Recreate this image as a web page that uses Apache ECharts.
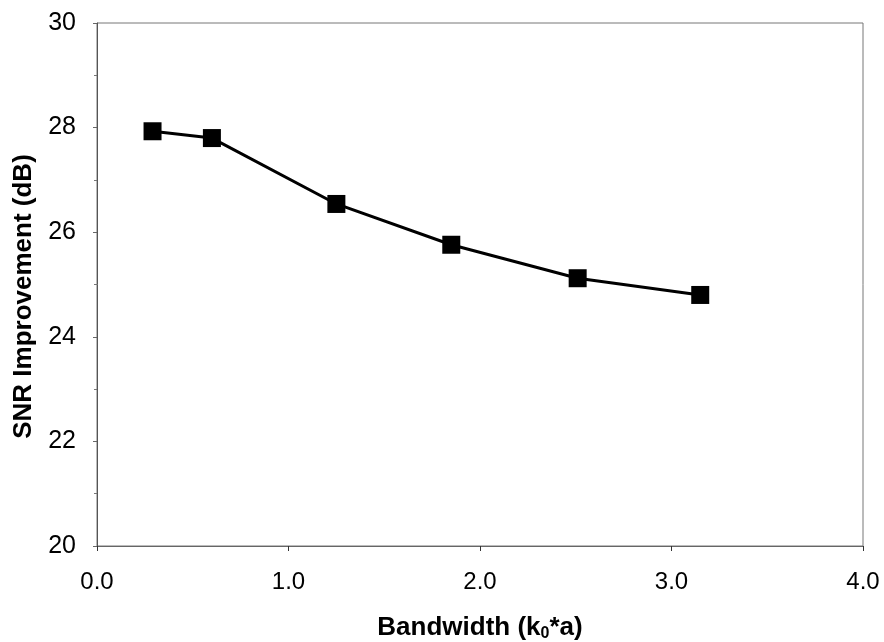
<!DOCTYPE html>
<html>
<head>
<meta charset="utf-8">
<script src="https://cdn.jsdelivr.net/npm/echarts@6/dist/echarts.min.js"></script>
<style>html,body{margin:0;padding:0;background:#fff}#c{width:884px;height:642px}</style>
</head>
<body>
<div id="c"></div>
<script>
const bandwidth = [0.29, 0.60, 1.25, 1.85, 2.51, 3.15];
const snr = [27.93, 27.80, 26.54, 25.76, 25.12, 24.80];
const xTicks = { min: 0, max: 4, interval: 1 };
const yTicks = { min: 20, max: 30, interval: 2 };

const chart = echarts.init(document.getElementById('c'), null, { renderer: 'canvas' });
chart.setOption({
  backgroundColor: '#fff',
  animation: false,
  grid: { left: 97, right: 21, top: 23, bottom: 96, show: true, borderColor: '#777', borderWidth: 1,
          containLabel: false, outerBoundsMode: 'none' },
  xAxis: {
    type: 'value', min: xTicks.min, max: xTicks.max, interval: xTicks.interval,
    name: 'Bandwidth (k{sub|0}*a)', nameLocation: 'middle', nameGap: 68,
    nameTextStyle: { fontFamily: 'Liberation Sans, Arial', fontWeight: 'bold', fontSize: 26, color: '#000',
      rich: { sub: { fontSize: 16, fontWeight: 'bold', color: '#000', verticalAlign: 'bottom', padding: [12, 0, 0, 0], fontFamily: 'Liberation Sans, Arial' } } },
    axisLine: { show: true, lineStyle: { color: '#666', width: 1 } },
    axisTick: { show: true, inside: false, length: 5, lineStyle: { color: '#333' } },
    axisLabel: { fontFamily: 'Liberation Sans, Arial', fontSize: 24, color: '#000', margin: 24, formatter: v => v.toFixed(1) },
    splitLine: { show: false }
  },
  yAxis: {
    type: 'value', min: yTicks.min, max: yTicks.max, interval: yTicks.interval,
    name: 'SNR Improvement (dB)', nameLocation: 'middle', nameGap: 60,
    nameTextStyle: { fontFamily: 'Liberation Sans, Arial', fontWeight: 'bold', fontSize: 26, color: '#000', padding: [0, 24, 0, 0] },
    axisLine: { show: true, lineStyle: { color: '#555', width: 1 } },
    axisTick: { show: true, length: 4, lineStyle: { color: '#666' } },
    minorTick: { show: true, splitNumber: 2, length: 3, lineStyle: { color: '#777' } },
    axisLabel: { fontFamily: 'Liberation Sans, Arial', fontSize: 25, color: '#000', margin: 21 },
    splitLine: { show: false }
  },
  series: [{
    type: 'line',
    data: bandwidth.map((x, i) => [x, snr[i]]),
    symbol: 'rect', symbolSize: 18,
    lineStyle: { color: '#000', width: 3 },
    itemStyle: { color: '#000' }
  }]
});
</script>
</body>
</html>
